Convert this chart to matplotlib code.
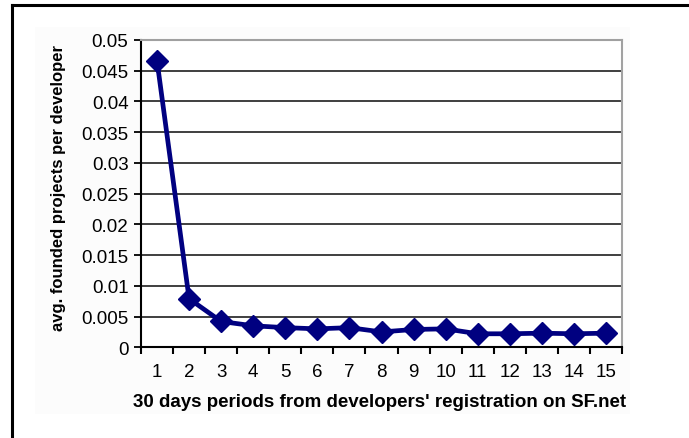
import matplotlib
matplotlib.use("Agg")
import matplotlib.pyplot as plt
from matplotlib.lines import Line2D
from matplotlib.patches import Rectangle

periods = list(range(1, 16))
avg_projects = [0.0466, 0.0079, 0.0042, 0.0035, 0.0032, 0.0030, 0.0032, 0.0025,
                0.0029, 0.0030, 0.0022, 0.0022, 0.0023, 0.0022, 0.0023]
y_ticks = [0, 0.005, 0.01, 0.015, 0.02, 0.025, 0.03, 0.035, 0.04, 0.045, 0.05]
y_tick_labels = ["0", "0.005", "0.01", "0.015", "0.02", "0.025", "0.03", "0.035", "0.04", "0.045", "0.05"]
x_label = "30 days periods from developers' registration on SF.net"
y_label = "avg. founded projects per developer"

plt.rcParams['font.family'] = ['Liberation Sans', 'DejaVu Sans']

fig = plt.figure(figsize=(6.89, 4.39), dpi=100)
W, H = 689, 439

# faint chart-area background
bg = Rectangle((35 / W, 1 - 415 / H), (630 - 35) / W, (415 - 28) / H,
               transform=fig.transFigure, facecolor='#fcfcfc', edgecolor='none')
bg.set_zorder(-5)
fig.add_artist(bg)
# outer frame (left and top edges visible)
fig.add_artist(Line2D([11.5 / W, 11.5 / W], [0, 1 - 6 / H], transform=fig.transFigure,
                      color='black', lw=2.2))
fig.add_artist(Line2D([11.5 / W, 1], [1 - 6 / H, 1 - 6 / H], transform=fig.transFigure,
                      color='black', lw=2.2))

ax = fig.add_axes([141 / W, 1 - 348.3 / H, (622 - 141) / W, (348.3 - 41) / H])
ax.set_zorder(1)
ax.set_facecolor('white')

ax.plot(periods, avg_projects, color='#000080', lw=3.4, marker='D', markersize=11,
        markerfacecolor='#000080', markeredgecolor='#000080', zorder=3, clip_on=False)

ax.set_xlim(0.5, 15.5)
ax.set_ylim(0, 0.05)

ax.set_yticks(y_ticks)
ax.set_yticklabels(y_tick_labels)
ax.yaxis.grid(True, color='#303030', lw=1.3)
ax.set_axisbelow(True)

ax.set_xticks([i + 0.5 for i in range(0, 16)])
ax.set_xticklabels([])
ax.set_xticks(periods, minor=True)
ax.set_xticklabels([str(p) for p in periods], minor=True)
ax.tick_params(axis='x', which='major', direction='out', length=5, width=1.5, color='black')
ax.tick_params(axis='x', which='minor', length=0, pad=11, labelsize=13.5)
ax.tick_params(axis='y', direction='out', length=5, width=1.3, color='black',
               labelsize=13.5, pad=4)

for name in ['left', 'bottom']:
    ax.spines[name].set_color('black')
    ax.spines[name].set_linewidth(1.5)
for name in ['right', 'top']:
    ax.spines[name].set_color('#a0a0a0')
    ax.spines[name].set_linewidth(1.5)
glines = ax.get_ygridlines()
glines[-1].set_visible(False)
glines[0].set_visible(False)

fig.text(380 / W, 1 - 403 / H, x_label, ha='center', va='center', fontsize=13.5,
         fontweight='bold')
fig.text(59 / W, 1 - 188 / H, y_label, ha='center', va='center', rotation=90,
         fontsize=12, fontweight='bold')

fig.savefig('out.png', dpi=100)
